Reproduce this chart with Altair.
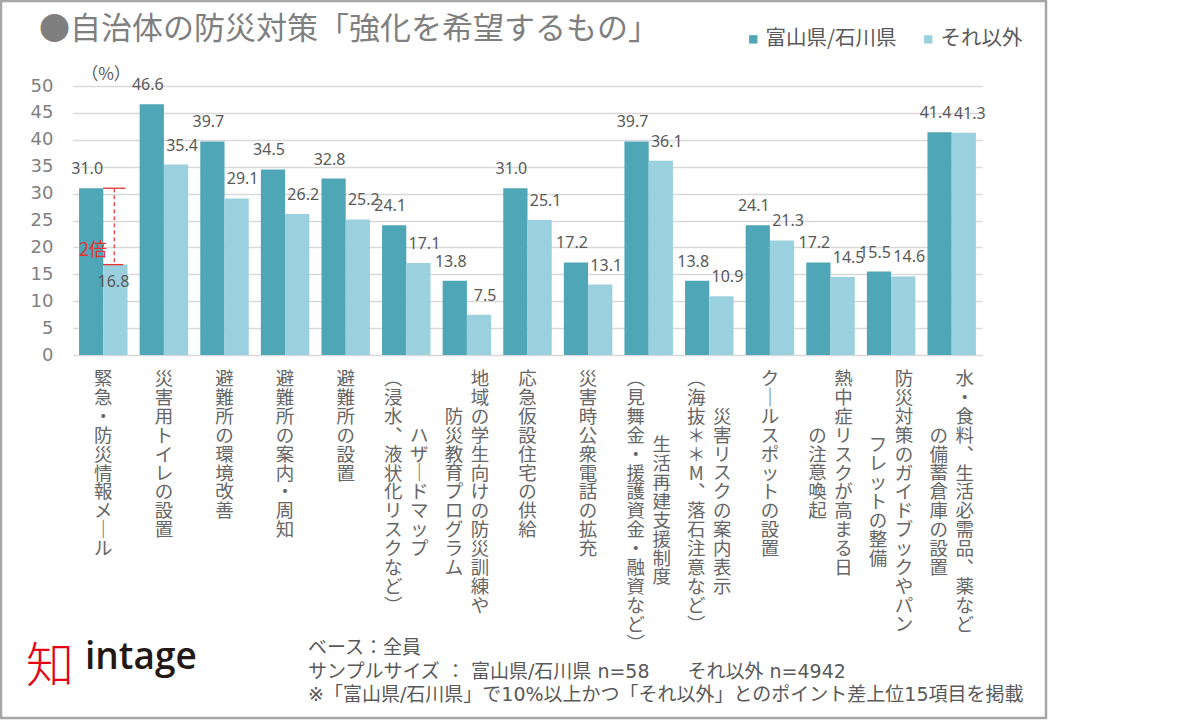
import altair as alt
import pandas as pd

# ---------------- data ----------------
series_names = ["富山県/石川県", "それ以外"]
series_colors = ["#4fa6b6", "#9bd0de"]

label_lines = [
    ["緊急・防災情報メール"],
    ["災害用トイレの設置"],
    ["避難所の環境改善"],
    ["避難所の案内・周知"],
    ["避難所の設置"],
    ["ハザードマップ", "(浸水、液状化リスクなど)"],
    ["地域の学生向けの防災訓練や", "防災教育プログラム"],
    ["応急仮設住宅の供給"],
    ["災害時公衆電話の拡充"],
    ["生活再建支援制度", "(見舞金・援護資金・融資など)"],
    ["災害リスクの案内表示", "(海抜＊＊M、落石注意など)"],
    ["クールスポットの設置"],
    ["熱中症リスクが高まる日", "の注意喚起"],
    ["防災対策のガイドブックやパン", "フレットの整備"],
    ["水・食料、生活必需品、薬など", "の備蓄倉庫の設置"],
]
toyama_ishikawa = [31.0, 46.6, 39.7, 34.5, 32.8, 24.1, 13.8, 31.0, 17.2, 39.7, 13.8, 24.1, 17.2, 15.5, 41.4]
others = [16.8, 35.4, 29.1, 26.2, 25.2, 17.1, 7.5, 25.1, 13.1, 36.1, 10.9, 21.3, 14.5, 14.6, 41.3]
y_ticks = [0, 5, 10, 15, 20, 25, 30, 35, 40, 45, 50]

title_text = "●自治体の防災対策「強化を希望するもの」"
unit_text = "（%）"
notes = [
    "ベース：全員",
    "サンプルサイズ ： 富山県/石川県 n=58　　それ以外 n=4942",
    "※「富山県/石川県」で10%以上かつ「それ以外」とのポイント差上位15項目を掲載",
]
ratio_text = "2倍"
logo_word = "intage"
logo_mark = "知"

# ---------------- tables ----------------
categories = ["".join(l) for l in label_lines]
rows = []
for cat, a, b in zip(categories, toyama_ishikawa, others):
    rows.append({"cat": cat, "series": series_names[0], "value": a})
    rows.append({"cat": cat, "series": series_names[1], "value": b})
df = pd.DataFrame(rows)

# vertical writing: one text item per column, one character per line
vert = {"ー": "｜", "、": "︑", "(": "︵", ")": "︶", "（": "︵", "）": "︶"}
cols = []
for cat, lines in zip(categories, label_lines):
    n = len(lines)
    maxlen = max(len(l) for l in lines)
    for j, line in enumerate(lines):
        col = "single" if n == 1 else ("right" if j == 0 else "left")
        cols.append({"cat": cat, "col": col,
                     "start": (maxlen - len(line)) / 2,
                     "chars": [vert.get(ch, ch) for ch in line]})
df_cols = pd.DataFrame(cols)

ann = pd.DataFrame([{"cat": categories[0], "top": toyama_ishikawa[0], "bot": others[0]}])

# ---------------- styling ----------------
W, H = 909, 269
PAD_L, PAD_T = 73, 86
JP = "Noto Sans CJK JP"
NUM = "Noto Sans"
MIX = "DejaVu Sans, Noto Sans CJK JP"
GRAY = "#595959"
RED = "#e8312f"
STEP = 18.9

xscale = alt.Scale(domain=categories, paddingInner=0.2, paddingOuter=0.1)
yscale = alt.Scale(domain=[0, 50], nice=False, zero=True)
yaxis = alt.Axis(values=y_ticks, title=None, grid=True,
                 gridColor="#d9d9d9", gridWidth=1.3, domain=False, ticks=False,
                 labelFontSize=18, labelColor="#7f7f7f", labelFont="DejaVu Sans",
                 labelPadding=20, labelOverlap=False, labelFlush=False)


def X(**kw):
    return alt.X("cat:N", scale=xscale, sort=categories, axis=None, **kw)


def Y(field):
    return alt.Y(field, scale=yscale, axis=yaxis)


xoff = alt.XOffset("series:N", sort=series_names, scale=alt.Scale(domain=series_names, paddingInner=0))

bars = alt.Chart(df).mark_bar().encode(
    x=X(),
    xOffset=xoff,
    y=Y("value:Q"),
    color=alt.Color("series:N", sort=series_names,
                    scale=alt.Scale(domain=series_names, range=series_colors),
                    legend=alt.Legend(orient="none", legendX=670, legendY=-57,
                                      direction="horizontal", title=None,
                                      symbolType="square", symbolSize=70,
                                      symbolStrokeWidth=0, labelFontSize=20.5,
                                      labelFont=JP, labelColor=GRAY, labelLimit=300,
                                      columnPadding=21, labelOffset=2)),
)

lbl_base = alt.Chart(df).encode(
    x=X(), xOffset=xoff,
    y=Y("value:Q"),
    text=alt.Text("value:Q", format=".1f"),
)
lbl_dark = lbl_base.mark_text(dy=-19, dx=-4, fontSize=16, font=NUM, color=GRAY).transform_filter(
    alt.datum.series == series_names[0])
lbl_light = lbl_base.mark_text(dy=-19, dx=6, fontSize=16, font=NUM, color=GRAY).transform_filter(
    (alt.datum.series == series_names[1]) & (alt.datum.cat != categories[0]))
lbl_special = lbl_base.mark_text(dy=17, dx=-2, fontSize=16, font=NUM, color=GRAY).transform_filter(
    (alt.datum.series == series_names[1]) & (alt.datum.cat == categories[0]))

ann_base = alt.Chart(ann)
rule_top = ann_base.mark_rule(color=RED, strokeWidth=1.3).encode(
    x=X(bandPosition=0.495), x2=alt.X2("cat:N", bandPosition=0.957), y=Y("top:Q"))
rule_bot = ann_base.mark_rule(color=RED, strokeWidth=1.3).encode(
    x=X(bandPosition=0.495), x2=alt.X2("cat:N", bandPosition=0.91), y=Y("bot:Q"))
rule_dash = ann_base.mark_rule(color=RED, strokeWidth=1.2, strokeDash=[4, 3]).encode(
    x=X(bandPosition=0.726), y=Y("top:Q"), y2="bot:Q")
ratio_txt = ann_base.mark_text(color=RED, fontSize=18, font=JP, dy=-14).encode(
    x=X(bandPosition=0.29), y=Y("bot:Q"), text=alt.value(ratio_text))

one = alt.Data(values=[{}])
frame = alt.Chart(one).mark_rect(fill="transparent", stroke="#a6a6a6", strokeWidth=2.5).encode(
    x=alt.value(-72), x2=alt.value(973), y=alt.value(-85), y2=alt.value(632))
title = alt.Chart(one).mark_text(align="left", baseline="middle", fontSize=31, font=JP,
                                 color="#7f7f7f").encode(
    x=alt.value(-34), y=alt.value(-56), text=alt.value(title_text))
unit = alt.Chart(one).mark_text(align="center", baseline="middle", fontSize=17, font=JP,
                                color=GRAY).encode(
    x=alt.value(33), y=alt.value(-11), text=alt.value(unit_text))
note_txt = alt.Chart(one).mark_text(align="left", baseline="top", fontSize=19, font=MIX,
                                    color=GRAY, lineHeight=23.5).encode(
    x=alt.value(235), y=alt.value(553), text=alt.value(notes))
logo1 = alt.Chart(one).mark_text(align="center", baseline="middle", fontSize=48, font=JP,
                                 fontWeight=300, color="#e50012").encode(
    x=alt.value(-23), y=alt.value(582), text=alt.value(logo_mark))
logo2 = alt.Chart(one).mark_text(align="left", baseline="alphabetic", fontSize=37,
                                 font="Open Sans", fontWeight=600, color="#231815").encode(
    x=alt.value(12), y=alt.value(583), text=alt.value(logo_word))

inner = alt.layer(frame, title, unit, note_txt, logo1, logo2, bars,
                  lbl_dark, lbl_light, lbl_special, rule_top, rule_bot, rule_dash, ratio_txt)

# first character baseline ~ 7px below its centre (centre at page y 378)
cscale = alt.Scale(domain=[0, 10], range=[299, 299 + 10 * STEP], nice=False, zero=False)


def col_layer(col, dx):
    return alt.Chart(df_cols).transform_filter(alt.datum.col == col).mark_text(
        align="center", baseline="alphabetic", fontSize=18.5, font=JP, color="#666666",
        dx=dx, lineHeight=STEP
    ).encode(x=X(), y=alt.Y("start:Q", scale=cscale, axis=None), text="chars:N")


chart = alt.layer(inner, col_layer("single", 0), col_layer("right", 13),
                  col_layer("left", -13)).resolve_scale(y="independent").properties(
    width=W, height=H,
    padding={"left": PAD_L, "top": PAD_T, "right": 1200 - PAD_L - W, "bottom": 720 - PAD_T - H},
    autosize=alt.AutoSizeParams(type="none"),
    background="white",
).configure_view(stroke=None)

chart.save("out.html", embed_options={"renderer": "svg", "actions": False})
